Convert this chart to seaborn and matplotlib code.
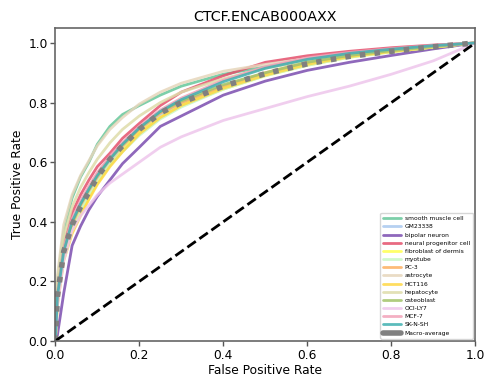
import numpy as np
import pandas as pd
import matplotlib
matplotlib.use("Agg")
import matplotlib.pyplot as plt
import seaborn as sns

fpr = [0, 0.005, 0.02, 0.04, 0.06, 0.08, 0.1, 0.13, 0.16, 0.2, 0.25, 0.3, 0.4, 0.5, 0.6, 0.7, 0.8, 0.9, 1.0]

cells = ["smooth muscle cell", "GM23338", "bipolar neuron", "neural progenitor cell",
         "fibroblast of dermis", "myotube", "PC-3", "astrocyte", "HCT116", "hepatocyte",
         "osteoblast", "OCI-LY7", "MCF-7", "SK-N-SH"]

tpr_smooth_muscle = [0, 0.20, 0.37, 0.48, 0.55, 0.60, 0.66, 0.72, 0.76, 0.79, 0.825, 0.855, 0.895, 0.92, 0.945, 0.963, 0.978, 0.99, 1]
tpr_gm23338 = [0, 0.15, 0.30, 0.39, 0.45, 0.50, 0.545, 0.60, 0.65, 0.705, 0.76, 0.795, 0.85, 0.895, 0.93, 0.955, 0.972, 0.987, 1]
tpr_bipolar = [0, 0.02, 0.16, 0.32, 0.385, 0.44, 0.485, 0.54, 0.595, 0.65, 0.72, 0.755, 0.825, 0.872, 0.908, 0.935, 0.958, 0.98, 1]
tpr_neural_prog = [0, 0.16, 0.32, 0.43, 0.49, 0.54, 0.585, 0.63, 0.68, 0.73, 0.79, 0.835, 0.89, 0.935, 0.957, 0.972, 0.984, 0.993, 1]
tpr_fibroblast = [0, 0.13, 0.28, 0.37, 0.43, 0.48, 0.53, 0.59, 0.64, 0.70, 0.75, 0.79, 0.845, 0.89, 0.925, 0.952, 0.97, 0.986, 1]
tpr_myotube = [0, 0.14, 0.29, 0.38, 0.44, 0.49, 0.535, 0.59, 0.635, 0.69, 0.745, 0.785, 0.845, 0.89, 0.925, 0.952, 0.97, 0.986, 1]
tpr_pc3 = [0, 0.15, 0.30, 0.39, 0.455, 0.505, 0.55, 0.61, 0.655, 0.71, 0.765, 0.80, 0.855, 0.90, 0.935, 0.958, 0.974, 0.988, 1]
tpr_astrocyte = [0, 0.22, 0.39, 0.49, 0.555, 0.605, 0.655, 0.71, 0.75, 0.795, 0.835, 0.865, 0.905, 0.928, 0.948, 0.965, 0.978, 0.99, 1]
tpr_hct116 = [0, 0.12, 0.27, 0.36, 0.42, 0.475, 0.525, 0.585, 0.635, 0.695, 0.75, 0.79, 0.848, 0.892, 0.928, 0.954, 0.971, 0.986, 1]
tpr_hepatocyte = [0, 0.19, 0.35, 0.45, 0.515, 0.565, 0.61, 0.665, 0.71, 0.755, 0.80, 0.835, 0.88, 0.915, 0.94, 0.96, 0.975, 0.989, 1]
tpr_osteoblast = [0, 0.16, 0.31, 0.40, 0.46, 0.51, 0.56, 0.615, 0.66, 0.715, 0.77, 0.805, 0.86, 0.90, 0.935, 0.958, 0.974, 0.988, 1]
tpr_oci_ly7 = [0, 0.12, 0.27, 0.37, 0.42, 0.455, 0.49, 0.53, 0.56, 0.60, 0.65, 0.685, 0.74, 0.78, 0.82, 0.855, 0.895, 0.94, 1]
tpr_mcf7 = [0, 0.16, 0.31, 0.41, 0.47, 0.52, 0.565, 0.62, 0.665, 0.72, 0.775, 0.815, 0.875, 0.92, 0.95, 0.968, 0.981, 0.992, 1]
tpr_sknsh = [0, 0.15, 0.30, 0.40, 0.46, 0.51, 0.555, 0.61, 0.66, 0.715, 0.77, 0.81, 0.87, 0.915, 0.945, 0.965, 0.979, 0.991, 1]

tpr_macro = [0, 0.15, 0.30, 0.39, 0.45, 0.50, 0.55, 0.61, 0.655, 0.71, 0.765, 0.80, 0.855, 0.897, 0.93, 0.955, 0.972, 0.987, 1]

colors = ["#66c79a", "#a9c8ef", "#7b4db0", "#e4506c", "#ffff50", "#c8f7c5", "#fdb060",
          "#e6d6bb", "#ffd845", "#dedcaa", "#a3c46a", "#eec6ec", "#f2a2b9", "#3fb0b0"]

all_tpr = [tpr_smooth_muscle, tpr_gm23338, tpr_bipolar, tpr_neural_prog, tpr_fibroblast,
           tpr_myotube, tpr_pc3, tpr_astrocyte, tpr_hct116, tpr_hepatocyte, tpr_osteoblast,
           tpr_oci_ly7, tpr_mcf7, tpr_sknsh]

rows = []
for c, t in zip(cells, all_tpr):
    for f, v in zip(fpr, t):
        rows.append({"cell": c, "fpr": f, "tpr": v})
df = pd.DataFrame(rows)
df_macro = pd.DataFrame({"fpr": fpr, "tpr": tpr_macro})

sns.set_style("white")
plt.rcParams['font.family'] = ['DejaVu Sans']
plt.rcParams['text.color'] = 'black'
plt.rcParams['axes.labelcolor'] = 'black'
plt.rcParams['xtick.color'] = 'black'
plt.rcParams['ytick.color'] = 'black'

fig = plt.figure(figsize=(4.87, 3.79), dpi=100)
ax = fig.add_axes([0.1136, 0.1003, 0.8624, 0.8257])

sns.lineplot(data=df, x="fpr", y="tpr", hue="cell", hue_order=cells,
             palette=dict(zip(cells, colors)), estimator=None, sort=False,
             lw=2, alpha=0.85, ax=ax, legend=True)
sns.lineplot(data=df_macro, x="fpr", y="tpr", color="#808080", lw=4, ls=":",
             estimator=None, sort=False, ax=ax, label="Macro-average")
ax.plot([0, 1], [0, 1], color="black", ls="--", lw=2)

ax.set_xlim(0, 1)
ax.set_ylim(0, 1.05)
ax.set_xticks([0, 0.2, 0.4, 0.6, 0.8, 1.0])
ax.set_yticks([0, 0.2, 0.4, 0.6, 0.8, 1.0])
ax.set_xticklabels(["0.0", "0.2", "0.4", "0.6", "0.8", "1.0"])
ax.set_yticklabels(["0.0", "0.2", "0.4", "0.6", "0.8", "1.0"])
ax.tick_params(axis="both", direction="out", length=3.5, width=1, color="#555555",
               labelcolor="black", labelsize=8.8, pad=2, left=True, bottom=True)
for s in ax.spines.values():
    s.set_color("#666666")
    s.set_linewidth(1.2)
ax.set_xlabel("False Positive Rate", fontsize=8.8, labelpad=2, color="black")
ax.set_ylabel("True Positive Rate", fontsize=8.8, labelpad=3, color="black")
ax.set_title("CTCF.ENCAB000AXX", fontsize=10.3, pad=5, color="black")

handles, labels = ax.get_legend_handles_labels()
leg = ax.legend(handles, labels, loc="lower right", fontsize=4.3, frameon=True,
                handlelength=3.0, labelspacing=0.5, borderpad=0.5,
                borderaxespad=0.4, handletextpad=0.6)
for h in leg.get_lines():
    h.set_linewidth(2)
    h.set_linestyle("-")
leg.get_lines()[-1].set_linewidth(4)
for t in leg.get_texts():
    t.set_color("black")

fig.savefig("out.png", dpi=100)
